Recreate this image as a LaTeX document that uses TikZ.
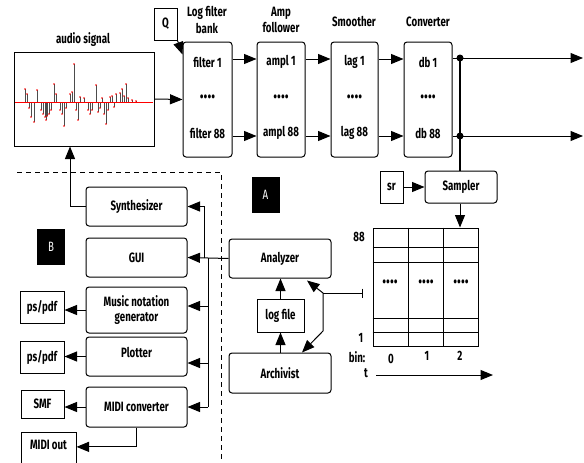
\documentclass[tikz,border=0pt]{standalone}
\usepackage{fontspec}
\setmainfont{Fira Sans}[FakeStretch=0.72]
\usetikzlibrary{positioning,calc,arrows.meta}

\begin{document}
\begin{tikzpicture}[x=1pt,y=-1pt]

% ---------------------------------------------------------------- styles
\tikzset{
  blk/.style   = {draw, rounded corners=3pt, line width=1pt, fill=white,
                  align=center, inner sep=2pt, font=\fontsize{13.5}{15}\selectfont\bfseries},
  sbox/.style  = {draw, line width=1pt, fill=white, align=center,
                  inner sep=2pt, font=\fontsize{13.5}{15}\selectfont\bfseries},
  tag/.style   = {fill=black, text=white, minimum width=28, minimum height=36,
                  font=\fontsize{13.5}{15}\selectfont},
  lbl/.style   = {align=center, inner sep=1pt, font=\fontsize{13.5}{16.5}\selectfont\bfseries},
  dots/.style  = {inner sep=1pt, font=\fontsize{22}{22}\selectfont\bfseries},
  line/.style  = {draw, line width=1pt},
  arr/.style   = {line, -{Triangle[length=12.5pt,width=10pt]}},
  arrs/.style  = {line, {Triangle[length=12.5pt,width=10pt]}-{Triangle[length=12.5pt,width=10pt]}},
  spike/.style = {draw=black!70, line width=0.6pt},
}

\useasboundingbox (0,0) rectangle (584,463);
\clip (0,0) rectangle (584,463);

% ============================================================ audio input
\node[sbox, minimum width=140, minimum height=94] (audio) at (84,99) {};
\node[lbl] (audiot) at (83,40) {audio signal};
\foreach \x/\d in {25/-13,27/-8,29/6,31/15,34/20,37/-12,41/8,43/12,
    45/15,46/18,47/14,49/12,51/8,54/-18,56/-8,60/8,62/12,64/24,66/6,
    70/-8,72/-10,74/-38,76/8,78/18,80/-5,84/-4,88/8,90/12,92/8,
    96/-17,98/10,100/6,102/-4,104/12,106/22,108/8,110/-5,112/-6,114/5,116/-8,
    120/-9,122/-13,124/-6,126/-18,128/-4,132/-2,136/-1}
  {\draw[spike] (\x,102) -- ++(0,\d);
   \fill[red] (\x,102+\d) circle (0.8);}
\draw[red, line width=0.5pt] (15,102) -- (153,102);

\node[sbox, minimum width=23, minimum height=32] (q) at (165.5,24) {Q};

% ====================================================== filter pipeline
\coordinate (r1) at (0,59);
\coordinate (r2) at (0,136);

\node[blk, minimum width=49, minimum height=115] (fb) at (207.5,99.5) {};
\node[blk, minimum width=48, minimum height=115] (af) at (281,99.5) {};
\node[blk, minimum width=47, minimum height=115] (sm) at (354.5,99.5) {};
\node[blk, minimum width=48, minimum height=115] (cv) at (428,99.5) {};

\node[lbl] (fbt) at (207,20) {Log filter\\bank};
\node[lbl] (aft) at (281,20) {Amp\\follower};
\node[lbl] (smt) at (354,21) {Smoother};
\node[lbl] (cvt) at (428,22) {Converter};

\foreach \b/\n in {fb/filter, af/ampl, sm/lag, cv/db}{
  \node[lbl] (\b1)  at ($(\b.center |- r1)+(0,3)$)  {\n\ 1};
  \node[dots] (\b d) at ($(\b.center)+(0,-3)$)       {....};
  \node[lbl] (\b88) at ($(\b.center |- r2)+(0,-3)$) {\n\ 88};
}

\draw[arr] (audio.east) -- (fb.west);
\draw[arr] (q.south east) -- ([yshift=-13pt]fb.north west);
\foreach \a/\b in {fb/af, af/sm, sm/cv}{
  \draw[arr] (\a.east |- r1) -- (\b.west |- r1);
  \draw[arr] (\a.east |- r2) -- (\b.west |- r2);
}

% converter outputs
\coordinate (j1) at (460,58);
\coordinate (j2) at (460,136);
\draw[arr] (cv.east |- j1) -- (583,58);
\draw[arr] (cv.east |- j2) -- (583,136);
\fill (j1) circle (3.5);
\fill (j2) circle (3.5);

% ============================================================= sampling
\node[sbox, minimum width=23, minimum height=32] (sr) at (391.5,187) {sr};
\node[blk, minimum width=72, minimum height=32] (samp) at (461,187) {Sampler};
\draw[line width=1.6pt] (j1) -- (samp.north -| j1);
\draw[arr] (sr.east) -- (samp.west);

\node[draw, line width=1pt, minimum width=105, minimum height=118,
      inner sep=0pt] (grid) at (425.5,287) {};
\draw[arr] (samp.south -| j1) -- (grid.north -| j1);
\foreach \y in {247,262,318,332}
  \draw[line] (grid.west |- 0,\y) -- (grid.east |- 0,\y);
\foreach \x in {408,443}
  \draw[line] (\x,0 |- grid.north) -- (\x,0 |- grid.south);
\foreach \x/\c in {390/0,426/1,461/2}
  \node[dots] (gd\c) at (\x,282) {....};

\node[lbl] (g88)  at (359,237) {88};
\node[lbl] (g1)   at (361,338) {1};
\node[lbl] (gbin) at (357,357) {bin:};
\node[lbl] (gt)   at (366,373) {t};
\node[lbl] (c0)   at (391,359) {0};
\node[lbl] (c1)   at (427,356) {1};
\node[lbl] (c2)   at (460,356) {2};
\coordinate (t0) at (376,375);
\coordinate (t1) at (493,375);
\draw[arr] (t0) -- (t1);

% ============================================================= analysis
\node[tag] (tagA) at (265.5,195) {A};
\node[blk, minimum width=102, minimum height=39] (an)  at (280,258.5) {Analyzer};
\node[sbox, minimum width=47, minimum height=33] (log) at (280.5,315.5) {log file};
\node[blk, minimum width=102, minimum height=40] (arc) at (280,373) {Archivist};

\draw[arr] (arc.north -| log.south) -- (log.south);
\draw[arr] (log.north) -- (an.south -| log.north);

\coordinate (k1) at (323,293);
\coordinate (k2) at (323,331);
\coordinate (tap) at (363,293);
\draw[arrs] ([xshift=27pt,yshift=-2pt]an.south) -- (k1) -- (k2)
            -- ([xshift=22pt]arc.north);
\draw[line, -{Bar[width=9pt]}] (k1) -- (tap);

% ============================================================ output side
\draw[line, dash pattern=on 5pt off 4pt] (17,172) -- (221,172) -- (221,463);
\node[tag] (tagB) at (51,247) {B};

\node[blk, minimum width=101, minimum height=39] (syn) at (136.5,206.5) {Synthesizer};
\node[blk, minimum width=101, minimum height=39] (gui) at (136.5,257.5) {GUI};
\node[blk, minimum width=101, minimum height=46] (mus) at (136.5,310) {Music notation\\generator};
\node[blk, minimum width=101, minimum height=39, text depth=8pt] (plt) at (136.5,356.5) {Plotter};
\node[blk, minimum width=101, minimum height=40] (mc)  at (136.5,407) {MIDI converter};

\node[sbox, minimum width=44, minimum height=32] (ps1) at (42,307) {ps/pdf};
\node[sbox, minimum width=44, minimum height=32] (ps2) at (42,357) {ps/pdf};
\node[sbox, minimum width=43, minimum height=28] (smf) at (42.5,404) {SMF};
\node[sbox, anchor=north, minimum width=55, text height=13pt, text depth=20pt,
      inner ysep=4pt] (mout) at (48.5,432) {MIDI out};

\draw[arr] (syn.west) -| ([xshift=-14pt]audio.south);

% control bus from the analyzer
\coordinate (b1) at (204,258);
\coordinate (b2) at (208,258);
\draw[arr] (an.west) -- (gui.east);
\draw[arr] (b1) |- (syn.east);
\draw[line] (b2) -- (b2 |- mc.east);
\draw[arr] ([yshift=4pt]mus.east -| b2) -- ([yshift=4pt]mus.east);
\draw[arr] ([yshift=-6.5pt]plt.east -| b2) -- ([yshift=-6.5pt]plt.east);
\draw[arr] (mc.east -| b2) -- (mc.east);

\draw[arr] (mus.west) -- (mus.west -| ps1.east);
\draw[arr] (plt.west) -- (plt.west -| ps2.east);
\draw[arr] (mc.west) -- (mc.west -| smf.east);
\draw[arr] (mc.south) |- (mout.mid east);

\end{tikzpicture}
\end{document}
